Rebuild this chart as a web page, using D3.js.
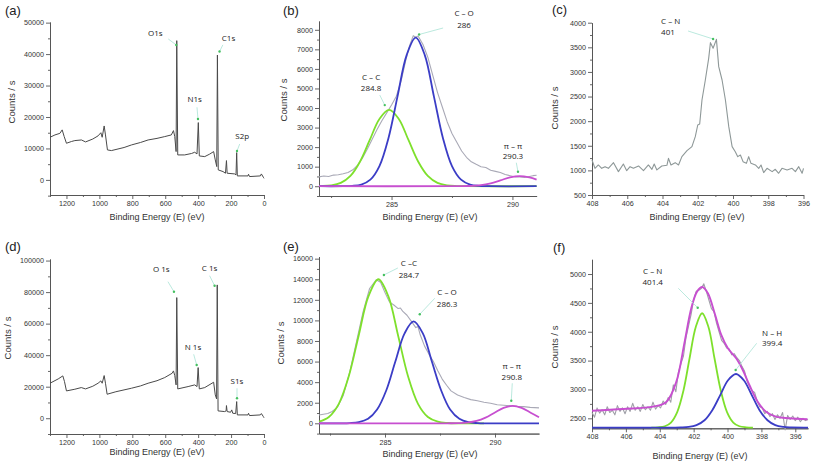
<!DOCTYPE html>
<html><head><meta charset="utf-8">
<script src="https://cdn.jsdelivr.net/npm/d3@7"></script>
<style>body{margin:0;background:#fff}svg{display:block}</style>
</head><body>
<script>
// ---------------- DATA ----------------
const surveyA = [[1300,13550],[1270,14300],[1240,14800],[1226,15900],[1214,13800],[1200,11650],[1170,12200],[1149,12500],[1109,12700],[1084,12070],[1040,13000],[1008,14000],[991,15000],[983,13550],[971,17150],[963,14300],[951,9530],[927,9320],[850,10300],[805,11120],[750,11900],[704,12700],[650,13200],[603,13770],[563,14300],[550,15670],[542,13770],[534,9000],[530,44270],[524,7940],[482,7940],[440,8400],[421,8790],[407,8260],[399,18220],[393,7620],[360,7410],[330,8200],[306,9000],[296,6350],[287,4240],[283,39700],[278,3180],[249,2650],[234,2120],[228,6140],[224,2120],[178,1900],[170,1590],[166,8680],[162,1270],[97,1270],[94,1800],[88,1060],[22,1270],[16,1900],[4,850],[0,500]];
const surveyD = [[1300,22200],[1250,24950],[1222,26850],[1212,23250],[1200,17330],[1149,18400],[1110,19450],[1084,18600],[1040,20300],[1008,22200],[991,23680],[983,22200],[971,27060],[963,22200],[953,15220],[900,16800],[805,19030],[750,20500],[704,22200],[650,23800],[603,25800],[558,28540],[550,30020],[542,27060],[534,21140],[530,76530],[524,18600],[461,20080],[421,21140],[407,20080],[400,32130],[393,18600],[360,19450],[306,22830],[296,14800],[288,12260],[284,84560],[279,4650],[239,4230],[230,4650],[228,8030],[224,4230],[203,3800],[196,5290],[190,3170],[172,2960],[166,10570],[162,2110],[97,2110],[94,3170],[88,1690],[22,2110],[16,2960],[4,1060],[0,300]];

const rawB = [[282.0,480],[282.2,520],[282.4,500],[282.6,570],[282.8,590],[283.0,640],[283.2,700],[283.4,840],[283.6,1080],[283.8,1450],[284.0,1900],[284.2,2400],[284.4,2900],[284.6,3350],[284.8,3750],[285.0,4150],[285.2,4600],[285.4,5400],[285.6,6500],[285.75,7200],[285.9,7700],[286.0,7620],[286.1,7680],[286.3,7250],[286.5,6600],[286.7,5700],[286.9,4800],[287.1,4050],[287.3,3300],[287.5,2700],[287.7,2250],[287.9,1800],[288.1,1480],[288.3,1250],[288.5,1120],[288.7,1000],[288.9,960],[289.1,820],[289.3,760],[289.5,700],[289.7,600],[289.9,540],[290.1,480],[290.3,470],[290.5,450],[290.7,500],[290.85,540],[291.0,560]];
const fitB_CC = [[282.0,5],[282.1,8],[282.5,43],[282.9,171],[283.3,528],[283.7,1266],[284.1,2365],[284.5,3442],[284.9,3900],[285.3,3442],[285.7,2365],[286.1,1266],[286.5,528],[286.9,171],[287.3,43],[287.7,8],[288.1,0],[291.0,0]];
const fitB_CO = [[282.0,0],[283.0,2],[283.375,17],[283.75,84],[284.125,334],[284.5,1028],[284.875,2468],[285.25,4610],[285.625,6707],[286.0,7600],[286.375,6707],[286.75,4610],[287.125,2468],[287.5,1028],[287.875,334],[288.25,84],[288.625,17],[289.0,2],[291.0,0]];
const fitB_PP = [[282.0,0],[287.5,0],[287.8,3],[288.2,11],[288.7,57],[289.1,150],[289.5,299],[289.9,453],[290.3,520],[290.7,453],[291.0,340]];

const rawC = [[408,1211],[407.83,1042],[407.64,1110],[407.45,1042],[407.26,1076],[407.07,1042],[406.78,1157],[406.5,975],[406.22,1130],[406.03,995],[405.84,1076],[405.65,1042],[405.36,1090],[405.08,995],[404.8,1110],[404.6,1022],[404.47,1130],[404.32,1009],[404.04,1090],[403.75,1103],[403.66,1245],[403.52,1110],[403.28,1157],[403.09,1110],[402.9,1279],[402.61,1400],[402.33,1482],[402.14,1685],[402.0,1922],[401.89,1942],[401.76,2430],[401.57,2836],[401.38,3276],[401.28,3595],[401.13,3480],[400.94,3662],[400.81,3107],[400.62,2836],[400.43,2430],[400.24,1888],[400.05,1482],[399.87,1380],[399.73,1279],[399.58,1313],[399.43,1177],[399.24,1143],[399.11,1279],[398.98,1143],[398.73,1110],[398.54,1042],[398.41,1110],[398.26,955],[398.07,1042],[397.78,975],[397.6,1022],[397.41,941],[397.22,1042],[396.93,1009],[396.65,1042],[396.46,975],[396.27,1076],[396.08,941],[396.0,1042]];

const rawE = [[282.0,800],[282.2,880],[282.4,950],[282.6,1150],[282.85,1600],[283.1,2700],[283.4,5000],[283.7,7900],[284.0,10800],[284.3,13100],[284.6,13950],[284.8,13700],[285.0,12700],[285.2,11800],[285.4,11500],[285.6,11150],[285.7,11200],[285.8,10900],[286.0,10500],[286.2,9900],[286.4,9300],[286.5,9400],[286.6,8600],[286.8,7500],[287.0,6700],[287.2,6000],[287.4,5100],[287.6,4300],[287.8,3700],[288.0,3150],[288.3,2750],[288.6,2500],[288.9,2300],[289.2,2200],[289.5,2050],[289.8,1950],[290.1,1800],[290.4,1750],[290.7,1700],[291.0,1650],[291.3,1620],[291.6,1550],[292.0,1500]];
const fitE_CC = [[282.0,156],[282.45,615],[282.9,1895],[283.35,4546],[283.8,8491],[284.25,12355],[284.7,14000],[285.15,12355],[285.6,8491],[286.05,4546],[286.5,1895],[286.95,615],[287.4,156],[287.85,31],[288.3,0],[289.5,0]];
const fitE_CO = [[282.0,0],[282.98,0],[283.4,22],[283.81,110],[284.23,435],[284.64,1340],[285.06,3215],[285.47,6004],[285.89,8737],[286.3,9900],[286.72,8737],[287.13,6004],[287.55,3215],[287.96,1340],[288.38,435],[288.79,110],[289.21,22],[289.62,0],[292.0,0]];
const fitE_PP = [[282.0,0],[287.5,0],[287.93,4],[288.34,19],[288.75,75],[289.16,230],[289.57,552],[289.98,1031],[290.39,1500],[290.8,1700],[291.21,1500],[291.62,1031],[292.0,583]];

const rawF = [[408,2600],[407.85,2520],[407.7,2680],[407.55,2590],[407.4,2650],[407.25,2560],[407.1,2700],[406.95,2600],[406.8,2640],[406.65,2560],[406.5,2720],[406.35,2620],[406.2,2680],[406.05,2580],[405.9,2700],[405.75,2620],[405.6,2760],[405.45,2640],[405.3,2700],[405.15,2620],[405.0,2740],[404.85,2650],[404.7,2700],[404.55,2640],[404.4,2780],[404.25,2660],[404.1,2720],[403.95,2680],[403.8,2800],[403.65,2740],[403.5,2860],[403.35,2780],[403.2,3080],[403.05,2960],[402.9,3300],[402.75,3450],[402.6,3580],[402.45,3900],[402.3,4100],[402.15,4300],[402.0,4550],[401.85,4700],[401.7,4720],[401.55,4750],[401.4,4830],[401.25,4700],[401.1,4550],[400.95,4400],[400.8,4350],[400.65,4150],[400.5,4000],[400.35,3850],[400.2,3800],[400.05,3720],[399.9,3700],[399.75,3600],[399.6,3620],[399.45,3550],[399.3,3500],[399.15,3400],[399.0,3320],[398.85,3150],[398.7,3050],[398.55,2980],[398.4,2950],[398.25,2800],[398.1,2700],[397.95,2680],[397.8,2580],[397.65,2620],[397.5,2530],[397.35,2580],[397.2,2480],[397.05,2560],[396.9,2500],[396.75,2600],[396.6,2300],[396.45,2550],[396.3,2480],[396.15,2540],[396.0,2460],[395.85,2520],[395.7,2440],[395.55,2500],[395.4,2460],[395.25,2480]];
const envF = [[408,2632],[406.16,2661],[404.39,2702],[403.6,2788],[403.02,3135],[402.53,3828],[402.14,4406],[401.8,4695],[401.49,4775],[401.16,4666],[400.76,4320],[400.37,3944],[399.98,3713],[399.49,3540],[399.1,3337],[398.71,3077],[398.22,2788],[397.73,2614],[397.14,2528],[396.35,2500],[395.28,2483]];
const fitF_CN = [[404.5,2340],[404.1,2344],[403.7,2362],[403.34,2427],[402.97,2608],[402.6,2983],[402.24,3541],[401.87,4087],[401.5,4320],[401.13,4087],[400.77,3541],[400.4,2983],[400.03,2608],[399.66,2427],[399.3,2362],[398.9,2344],[398.5,2340]];
const fitF_NH = [[408,2340],[403.2,2340],[402.76,2342],[402.29,2350],[401.83,2381],[401.36,2466],[400.9,2641],[400.43,2903],[399.97,3159],[399.5,3268],[399.04,3159],[398.57,2903],[398.11,2641],[397.64,2466],[397.18,2381],[396.71,2350],[396.24,2342],[395.25,2340]];

// tick values
const ticksSurveyX = [1200,1000,800,600,400,200,0];
const ticksSurveyXMinor = [1300,1100,900,700,500,300,100];
const ticksAY = [0,10000,20000,30000,40000,50000];
const ticksAYMinor = [-5000,5000,15000,25000,35000,45000];
const ticksDY = [0,20000,40000,60000,80000,100000];
const ticksDYMinor = [-10000,10000,30000,50000,70000,90000];
const ticksCxX = [285,290];
const ticksCxXMinor = [282.5,287.5];
const ticksBY = [0,1000,2000,3000,4000,5000,6000,7000,8000];
const ticksBYMinor = [-500,500,1500,2500,3500,4500,5500,6500,7500];
const ticksEY = [0,2000,4000,6000,8000,10000,12000,14000,16000];
const ticksEYMinor = [-1000,1000,3000,5000,7000,9000,11000,13000,15000];
const ticksNX = [408,406,404,402,400,398,396];
const ticksNXMinor = [407,405,403,401,399,397];
const ticksCY = [500,1000,1500,2000,2500,3000,3500,4000];
const ticksCYMinor = [750,1250,1750,2250,2750,3250,3750];
const ticksFY = [2500,3000,3500,4000,4500,5000];
const ticksFYMinor = [2750,3250,3750,4250,4750];

// peak annotation labels and their marker positions (BE, counts)
const annA = [["O1s"],["C1s"],["N1s"],["S2p"]];
const annAPts = [[533,42900],[270,40800],[401,19370],[164,9190]];
const annD = [["O 1s"],["C 1s"],["N 1s"],["S1s"]];
const annDPts = [[547,80260],[300,84060],[409,33760],[164,12640]];
const annB = [["C – C","284.8"],["C – O","286"],["π – π","290.3"]];
const annBPts = [[284.72,4150],[286.14,7760],[290.23,743]];
const annC = [["C – N","401"]];
const annCPts = [[401.13,3669]];
const annE = [["C –C","284.7"],["C – O","286.3"],["π – π","290.8"]];
const annEPts = [[284.95,14416],[286.58,10596],[290.74,2198]];
const annF = [["C – N","401.4"],["N – H","399.4"]];
const annFPts = [[401.76,4416],[399.52,3337]];

// ---------------- DRAWING ----------------
const W = 813, H = 464;
const svg = d3.select("body").append("svg").attr("width", W).attr("height", H);
svg.append("rect").attr("width", W).attr("height", H).attr("fill", "#fff");

const AXIS = "#555", TXT = "#333";
const GREEN = "#7ee02c", BLUE = "#3b3dc6", MAG = "#c74fd0";
const FONT = "Liberation Sans, Arial, sans-serif";

function drawPanel(p) {
  const x = d3.scaleLinear().domain(p.xDomain).range(p.xRange);
  const y = d3.scaleLinear().domain(p.yDomain).range(p.yRange);
  const g = svg.append("g");
  const yb = p.yRange[0], xl = p.xRange[0];

  const style = sel => {
    sel.selectAll("path,line").attr("stroke", AXIS).attr("stroke-width", 0.9);
    sel.selectAll("text").attr("fill", TXT).attr("font-size", 7.2).attr("font-family", FONT);
  };
  g.append("g").attr("transform", `translate(0,${yb})`)
    .call(d3.axisBottom(x).tickValues(p.xMinor).tickSize(2).tickSizeOuter(0).tickFormat("")).call(style);
  g.append("g").attr("transform", `translate(0,${yb})`)
    .call(d3.axisBottom(x).tickValues(p.xMajor).tickSize(4).tickSizeOuter(0).tickPadding(2).tickFormat(d3.format("d"))).call(style);
  g.append("g").attr("transform", `translate(${xl},0)`)
    .call(d3.axisLeft(y).tickValues(p.yMinor).tickSize(2).tickSizeOuter(0).tickFormat("")).call(style);
  g.append("g").attr("transform", `translate(${xl},0)`)
    .call(d3.axisLeft(y).tickValues(p.yMajor).tickSize(4).tickSizeOuter(0).tickPadding(2).tickFormat(d3.format("d"))).call(style);

  p.series.forEach(s => {
    const line = d3.line().x(d => x(d[0])).y(d => y(d[1]))
      .curve(s.smooth ? d3.curveCatmullRom.alpha(0.5) : d3.curveLinear);
    g.append("path").datum(s.data).attr("d", line)
      .attr("fill", "none").attr("stroke", s.color).attr("stroke-width", s.width)
      .attr("stroke-linejoin", "round");
  });

  // annotations
  p.ann.forEach((a, i) => {
    const pt = p.annPts[i], o = p.annOff[i];
    const px = x(pt[0]), py = y(pt[1]);
    g.append("line").attr("x1", px + o.lx).attr("y1", py + o.ly).attr("x2", px).attr("y2", py)
      .attr("stroke", "#a9e3d6").attr("stroke-width", 0.8);
    g.append("circle").attr("cx", px).attr("cy", py).attr("r", 1.2).attr("fill", "#45c060");
    a.forEach((t, j) => {
      g.append("text").attr("x", px + o.tx).attr("y", py + o.ty + j * o.sp)
        .attr("text-anchor", o.anchor || "middle").attr("dominant-baseline", "middle")
        .attr("font-family", "Open Sans, Liberation Sans, sans-serif").attr("font-size", 8)
        .attr("fill", "#222").text(t);
    });
  });

  // titles
  g.append("text").attr("x", p.xTitle[0]).attr("y", p.xTitle[1]).attr("text-anchor", "middle")
    .attr("dominant-baseline", "middle").attr("font-family", FONT).attr("font-size", 9)
    .attr("fill", TXT).text("Binding Energy (E) (eV)");
  g.append("text").attr("transform", `translate(${p.yTitle[0]},${p.yTitle[1]}) rotate(-90)`)
    .attr("text-anchor", "middle").attr("dominant-baseline", "middle").attr("font-family", FONT)
    .attr("font-size", 9.5).attr("fill", TXT).text("Counts / s");
  g.append("text").attr("x", p.label[0]).attr("y", p.label[1]).attr("font-family", FONT)
    .attr("font-size", 13).attr("fill", "#222").text(p.label[2]);
}

const SURV = "#4a4a4a";
drawPanel({
  xDomain: [1300, 0], xRange: [50, 264], yDomain: [-4800, 50200], yRange: [195, 22],
  xMajor: ticksSurveyX, xMinor: ticksSurveyXMinor, yMajor: ticksAY, yMinor: ticksAYMinor,
  series: [{ data: surveyA, color: SURV, width: 1 }],
  ann: annA, annPts: annAPts,
  annOff: [{tx:-21,ty:-11,lx:-8,ly:-6,sp:0},{tx:9,ty:-12.7,lx:3.3,ly:-6.7,sp:0},{tx:-3.3,ty:-19,lx:-1,ly:-11.7,sp:0},{tx:5.3,ty:-13.7,lx:2.7,ly:-7,sp:0}],
  xTitle: [157, 218], yTitle: [12, 102], label: [5, 15, "(a)"]
});
drawPanel({
  xDomain: [282, 291], xRange: [319, 536.6], yDomain: [-500, 8450], yRange: [196, 21],
  xMajor: ticksCxX, xMinor: ticksCxXMinor, yMajor: ticksBY, yMinor: ticksBYMinor,
  series: [{ data: rawB, color: "#a9a9b6", width: 1.1 },
           { data: fitB_CC, color: GREEN, width: 1.8, smooth: true },
           { data: fitB_CO, color: BLUE, width: 1.8, smooth: true },
           { data: fitB_PP, color: MAG, width: 1.8, smooth: true }],
  ann: annB, annPts: annBPts,
  annOff: [{tx:-13.7,ty:-27,lx:-5,ly:-10,sp:11},{tx:45,ty:-20.5,lx:24,ly:-6.5,sp:11.5},{tx:-5,ty:-24.4,lx:-1.7,ly:-9,sp:10}],
  xTitle: [430, 218], yTitle: [284, 100], label: [283, 15, "(b)"]
});
drawPanel({
  xDomain: [408, 396], xRange: [592, 803.5], yDomain: [500, 4000], yRange: [195, 22.7],
  xMajor: ticksNX, xMinor: ticksNXMinor, yMajor: ticksCY, yMinor: ticksCYMinor,
  series: [{ data: rawC, color: "#8e9898", width: 1.1 }],
  ann: annC, annPts: annCPts,
  annOff: [{tx:-52,ty:-17,lx:-25,ly:-8,sp:11,anchor:"start"}],
  xTitle: [697, 218], yTitle: [555, 108], label: [552, 14, "(c)"]
});
drawPanel({
  xDomain: [1300, 0], xRange: [50, 264], yDomain: [-10000, 101000], yRange: [434, 259],
  xMajor: ticksSurveyX, xMinor: ticksSurveyXMinor, yMajor: ticksDY, yMinor: ticksDYMinor,
  series: [{ data: surveyD, color: SURV, width: 1 }],
  ann: annD, annPts: annDPts,
  annOff: [{tx:-12.7,ty:-21.7,lx:-6,ly:-10,sp:0},{tx:-5,ty:-16.7,lx:-5,ly:-10,sp:0},{tx:-3.7,ty:-17.3,lx:-3,ly:-10.7,sp:0},{tx:0,ty:-16,lx:0,ly:-10,sp:0}],
  xTitle: [157, 453], yTitle: [8, 338], label: [5, 251, "(d)"]
});
drawPanel({
  xDomain: [282, 292], xRange: [319, 539], yDomain: [-1000, 16200], yRange: [433.6, 256.6],
  xMajor: ticksCxX, xMinor: ticksCxXMinor, yMajor: ticksEY, yMinor: ticksEYMinor,
  series: [{ data: rawE, color: "#a9a9b6", width: 1.1 },
           { data: fitE_CC, color: GREEN, width: 1.8, smooth: true },
           { data: fitE_CO, color: BLUE, width: 1.8, smooth: true },
           { data: fitE_PP, color: MAG, width: 1.8, smooth: true }],
  ann: annE, annPts: annEPts,
  annOff: [{tx:25,ty:-11,lx:14,ly:-7,sp:11.5},{tx:27.3,ty:-21.3,lx:15,ly:-16,sp:11.5},{tx:0.5,ty:-33.7,lx:1,ly:-17.4,sp:10.5}],
  xTitle: [430, 455], yTitle: [281, 343], label: [283, 251, "(e)"]
});
drawPanel({
  xDomain: [408, 395.25], xRange: [592, 808], yDomain: [2327, 5255], yRange: [428.3, 259.3],
  xMajor: ticksNX, xMinor: ticksNXMinor, yMajor: ticksFY, yMinor: ticksFYMinor,
  series: [{ data: rawF, color: "#a0a0a8", width: 1.1 },
           { data: fitF_CN, color: GREEN, width: 1.8, smooth: true },
           { data: fitF_NH, color: BLUE, width: 1.8, smooth: true },
           { data: envF, color: MAG, width: 1.9, smooth: true }],
  ann: annF, annPts: annFPts,
  annOff: [{tx:-45,ty:-35.7,lx:-19.4,ly:-19.4,sp:11},{tx:36.5,ty:-36.5,lx:21,ly:-26.7,sp:10.5}],
  xTitle: [700, 457], yTitle: [555, 347], label: [553, 252, "(f)"]
});
</script>
</body></html>
